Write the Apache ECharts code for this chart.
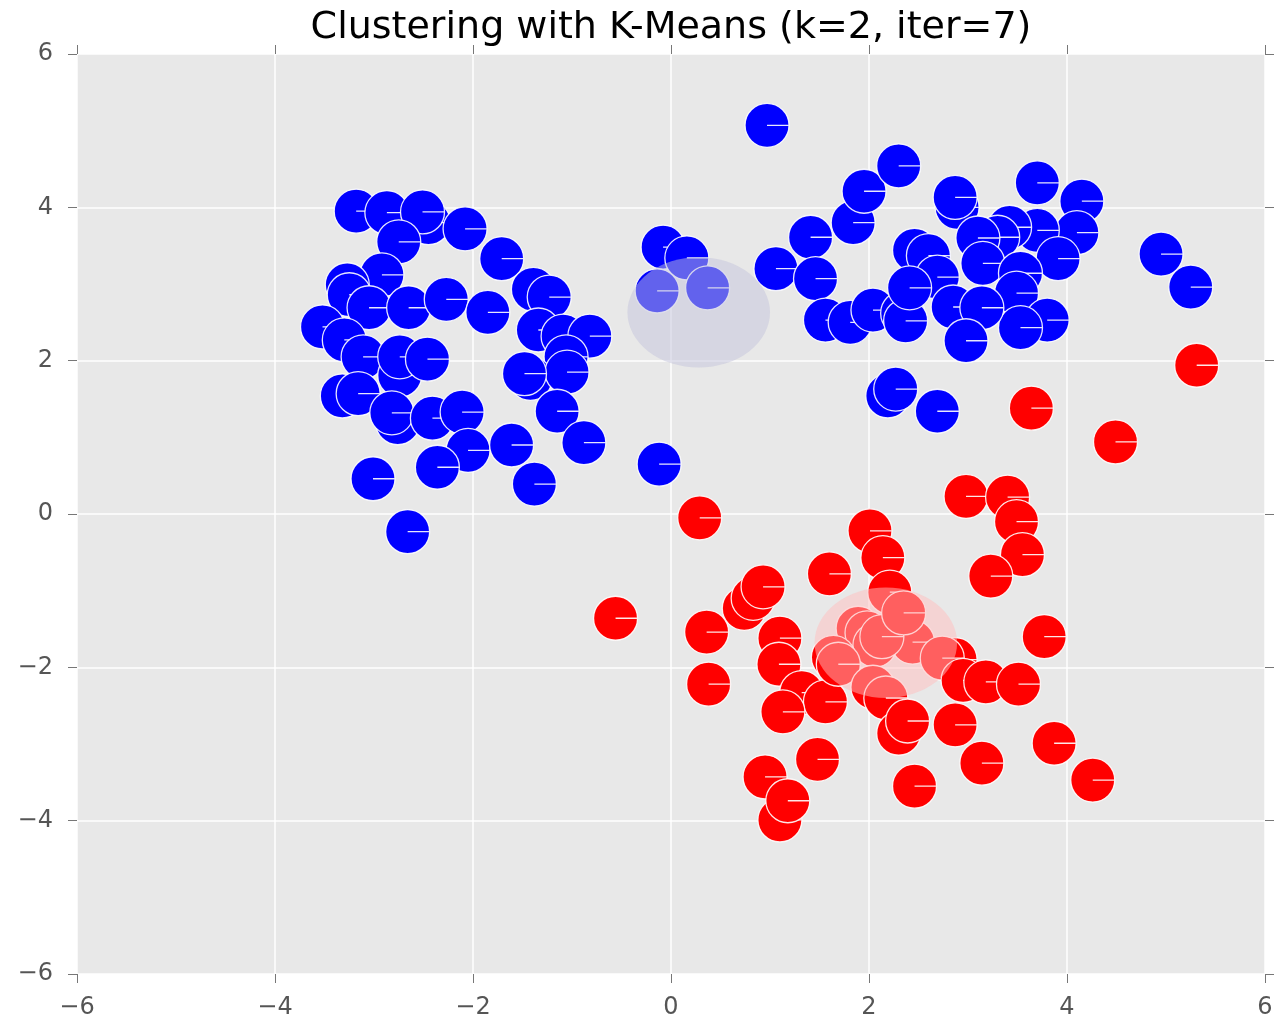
<!DOCTYPE html>
<html>
<head>
<meta charset="utf-8">
<script src="https://cdn.jsdelivr.net/npm/echarts@6/dist/echarts.min.js"></script>
<style>
html,body{margin:0;padding:0;background:#fff;}
#chart{width:1279px;height:1024px;}
</style>
</head>
<body>
<div id="chart"></div>
<script>
var titleText = 'Clustering with K-Means (k=2, iter=7)';
var axisTicks = [-6, -4, -2, 0, 2, 4, 6];

var bluePoints = [
  [-3.18,3.95],[-2.87,3.93],[-2.45,3.80],[-2.51,3.94],[-2.75,3.55],[-2.08,3.72],[-1.71,3.33],
  [-2.92,3.12],[-3.27,2.99],[-3.25,2.86],[-3.05,2.69],[-2.65,2.69],[-2.27,2.80],[-1.85,2.63],
  [-1.39,2.93],[-1.23,2.83],[-3.52,2.44],[-3.30,2.27],[-3.11,2.05],[-2.74,1.81],[-2.74,2.05],
  [-2.46,2.02],[-1.34,2.40],[-1.09,2.32],[-0.82,2.32],[-1.06,2.05],[-1.42,1.77],[-1.05,1.85],
  [-1.48,1.83],[-3.32,1.54],[-3.16,1.57],[-2.76,1.19],[-2.82,1.32],[-2.41,1.25],[-2.11,1.33],
  [-1.15,1.34],[-2.05,0.83],[-1.61,0.90],[-0.88,0.93],[-2.36,0.61],[-3.01,0.46],[-1.38,0.39],
  [-2.66,-0.23],
  [-0.08,3.48],[0.16,3.34],[-0.14,2.91],[0.37,2.95],[-0.12,0.65],[0.97,5.07],
  [1.06,3.20],[1.41,3.61],[1.46,3.07],[1.84,3.80],[1.95,4.21],[2.30,4.54],[1.56,2.53],
  [1.81,2.50],[2.04,2.66],[2.34,2.62],[2.37,2.52],[2.89,4.00],[2.87,4.13],[3.70,4.32],
  [4.15,4.08],[4.10,3.67],[3.70,3.70],[3.91,3.33],[3.42,3.74],[3.30,3.61],[3.10,3.60],
  [2.46,3.44],[2.60,3.37],[2.69,3.09],[2.41,2.95],[3.15,3.27],[3.53,3.14],[3.49,2.88],
  [2.85,2.70],[3.80,2.53],[3.53,2.43],[3.14,2.69],[2.98,2.26],[2.19,1.54],[2.27,1.63],
  [2.69,1.34],[4.95,3.39],[5.25,2.96]
];

var redPoints = [
  [0.29,-0.05],[2.98,0.23],[3.40,0.22],[3.49,-0.10],[3.55,-0.53],[3.23,-0.81],[2.01,-0.22],
  [2.14,-0.57],[1.60,-0.78],[0.74,-1.23],[0.83,-1.10],[0.93,-0.95],[-0.56,-1.36],[0.36,-1.54],
  [0.38,-2.22],[1.10,-1.62],[1.09,-1.96],[1.32,-2.33],[1.56,-2.45],[1.13,-2.58],[2.21,-1.02],
  [1.89,-1.49],[2.44,-1.67],[1.98,-1.55],[2.06,-1.71],[2.13,-1.60],[1.64,-1.87],[1.69,-1.96],
  [2.35,-1.29],[2.87,-1.90],[2.74,-1.88],[2.95,-2.17],[3.18,-2.19],[3.51,-2.22],[2.04,-2.26],
  [2.17,-2.40],[2.30,-2.86],[2.39,-2.70],[2.87,-2.75],[3.14,-3.25],[2.46,-3.55],[3.77,-1.60],
  [3.87,-2.99],[4.26,-3.47],[1.48,-3.20],[1.10,-3.99],[0.95,-3.43],[1.18,-3.74],[5.31,1.94],
  [3.64,1.38],[4.49,0.94]
];

var centroids = [[0.28, 2.63], [2.17, -1.68]];
var centroidRadius = 0.72;
var centroidColors = ['rgba(196,196,220,0.5)', 'rgba(255,190,190,0.5)'];

var markerPath = 'path://M0,-20A20,20,0,1,1,0,20A20,20,0,1,1,0,-20ZM0,0L20,0';
var FONT = '"DejaVu Sans", sans-serif';

function fmt(v) { return String(v).replace('-', '\u2212'); }

var chart = echarts.init(document.getElementById('chart'), null, {renderer: 'canvas'});

function mainX(pos, showLabel, split) {
  return {
    type: 'value', position: pos, min: -6, max: 6, interval: 2,
    axisLine: {show: false, onZero: false},
    axisTick: {show: true, inside: false, length: 9, lineStyle: {color: '#777', width: 1}},
    axisLabel: {show: showLabel, margin: 22, fontSize: 24, color: '#555', fontFamily: FONT, formatter: fmt},
    splitLine: {show: split, lineStyle: {color: '#ffffff', width: 1.5}}
  };
}
function mainY(pos, showLabel, split) {
  return {
    type: 'value', position: pos, min: -6, max: 6, interval: 2,
    axisLine: {show: false, onZero: false},
    axisTick: {show: true, inside: false, length: 9, lineStyle: {color: '#777', width: 1}},
    axisLabel: {show: showLabel, margin: 24, fontSize: 24, color: '#555', fontFamily: FONT, formatter: fmt},
    splitLine: {show: split, lineStyle: {color: '#ffffff', width: 1.5}}
  };
}

var option = {
  animation: false,
  backgroundColor: '#ffffff',
  textStyle: {fontFamily: FONT},
  grid: {left: 77, right: 14, top: 54, bottom: 50, show: true, backgroundColor: '#E8E8E8', borderWidth: 0},
  xAxis: [mainX('bottom', true, true), mainX('top', false, false)],
  yAxis: [mainY('left', true, true), mainY('right', false, false)],
  graphic: [{
    type: 'text', x: 671, y: 28,
    style: {text: titleText, fontSize: 38, fontFamily: FONT, fill: '#000', textAlign: 'center', textVerticalAlign: 'middle'}
  }],
  series: [
    {
      type: 'scatter', name: 'cluster 1', data: bluePoints, xAxisIndex: 0, yAxisIndex: 0,
      symbol: markerPath, symbolSize: 44,
      itemStyle: {color: '#0000FF', borderColor: 'rgba(255,255,255,0.9)', borderWidth: 1.3, opacity: 1},
      emphasis: {disabled: true}, silent: true, z: 2
    },
    {
      type: 'scatter', name: 'cluster 2', data: redPoints, xAxisIndex: 0, yAxisIndex: 0,
      symbol: markerPath, symbolSize: 44,
      itemStyle: {color: '#FF0000', borderColor: 'rgba(255,255,255,0.9)', borderWidth: 1.3, opacity: 1},
      emphasis: {disabled: true}, silent: true, z: 2
    },
    {
      type: 'custom', name: 'centroids', data: centroids, xAxisIndex: 0, yAxisIndex: 0, z: 5, silent: true,
      renderItem: function (params, api) {
        var c = api.coord([api.value(0), api.value(1)]);
        var s = api.size([centroidRadius * 2, centroidRadius * 2]);
        var rx = s[0] / 2, ry = s[1] / 2;
        return {
          type: 'circle', x: c[0], y: c[1], scaleX: 1, scaleY: ry / rx,
          shape: {cx: 0, cy: 0, r: rx},
          style: {fill: centroidColors[params.dataIndex], stroke: null}
        };
      }
    }
  ]
};
chart.setOption(option);
</script>
</body>
</html>
